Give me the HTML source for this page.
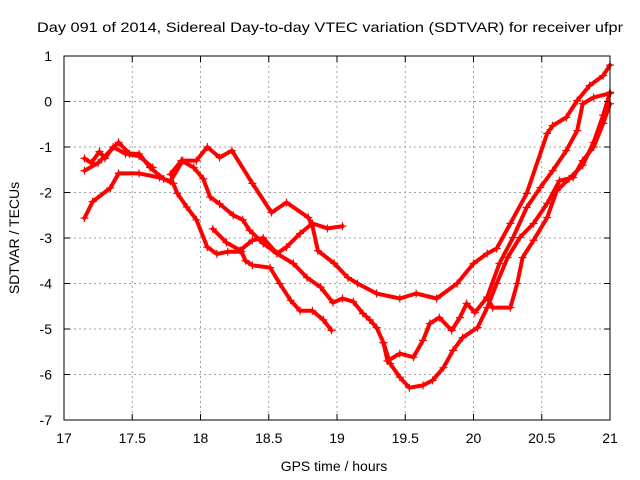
<!DOCTYPE html>
<html><head><meta charset="utf-8"><style>
html,body{margin:0;padding:0;background:#fff}
svg{display:block;font-family:"Liberation Sans",sans-serif}
</style></head><body>
<svg id="chart" width="640" height="480" viewBox="0 0 640 480">
<rect width="640" height="480" fill="#fff"/>
<text x="330" y="32" font-size="14" text-anchor="middle" textLength="586" lengthAdjust="spacingAndGlyphs">Day 091 of 2014, Sidereal Day-to-day VTEC variation (SDTVAR) for receiver ufpr</text>
<g id="grid"></g>
<g id="series"></g>
<rect x="64" y="56" width="546" height="364" fill="none" stroke="#000" stroke-width="1"/>
<g id="axes"></g>
<text x="334" y="471" font-size="14" text-anchor="middle">GPS time / hours</text>
<text transform="translate(19,238) rotate(-90)" font-size="14" text-anchor="middle">SDTVAR / TECUs</text>
</svg>
<script>
const xTicks=[17,17.5,18,18.5,19,19.5,20,20.5,21];
const xTickLabels=["17","17.5","18","18.5","19","19.5","20","20.5","21"];
const yTicks=[1,0,-1,-2,-3,-4,-5,-6,-7];
const yTickLabels=["1","0","-1","-2","-3","-4","-5","-6","-7"];
const series0=[[17.15,-1.25],[17.2,-1.35],[17.26,-1.1],[17.3,-1.25],[17.36,-1.0],[17.45,-1.15],[17.55,-1.2],[17.65,-1.45]];
const series1=[[17.15,-2.56],[17.21,-2.2],[17.34,-1.9],[17.4,-1.58],[17.55,-1.58],[17.7,-1.67],[17.78,-1.75],[17.87,-1.3],[17.97,-1.3],[18.05,-1.0],[18.14,-1.23],[18.23,-1.08],[18.38,-1.8],[18.52,-2.44],[18.63,-2.22],[18.79,-2.55],[18.82,-2.73],[18.86,-3.28],[18.98,-3.56],[19.08,-3.87],[19.15,-4.0],[19.29,-4.22],[19.46,-4.33],[19.58,-4.22],[19.73,-4.33],[19.88,-4.0],[20.0,-3.56],[20.1,-3.34],[20.17,-3.23],[20.27,-2.68],[20.39,-2.02],[20.54,-0.7],[20.58,-0.53],[20.68,-0.35],[20.76,0.02],[20.85,0.35],[20.95,0.57],[21.0,0.8]];
const series2=[[18.09,-2.8],[18.19,-3.1],[18.29,-3.27],[18.38,-3.05],[18.46,-3.0],[18.56,-3.34],[18.63,-3.2],[18.73,-2.9],[18.82,-2.68],[18.93,-2.79],[19.04,-2.74]];
const series3=[[17.15,-1.52],[17.25,-1.35],[17.4,-0.9],[17.48,-1.15],[17.55,-1.15],[17.63,-1.45],[17.73,-1.7],[17.8,-1.8],[17.83,-2.02],[17.9,-2.32],[17.97,-2.6],[18.05,-3.2],[18.12,-3.35],[18.2,-3.3],[18.3,-3.3],[18.33,-3.5],[18.38,-3.6],[18.51,-3.65],[18.58,-4.0],[18.66,-4.37],[18.73,-4.6],[18.82,-4.6],[18.9,-4.8],[18.96,-5.03]];
const series4=[[17.78,-1.6],[17.86,-1.3],[17.95,-1.45],[18.02,-1.7],[18.07,-2.1],[18.14,-2.25],[18.24,-2.5],[18.31,-2.6],[18.36,-2.83],[18.46,-3.12],[18.56,-3.34],[18.68,-3.56],[18.78,-3.87],[18.88,-4.08],[18.97,-4.42],[19.04,-4.33],[19.12,-4.4],[19.19,-4.66],[19.24,-4.8],[19.29,-4.97],[19.34,-5.3],[19.39,-5.76],[19.46,-6.06],[19.53,-6.29],[19.63,-6.24],[19.7,-6.13],[19.78,-5.85],[19.85,-5.47],[19.92,-5.19],[20.03,-4.97],[20.1,-4.53],[20.17,-4.0],[20.25,-3.43],[20.34,-2.99],[20.44,-2.68],[20.54,-2.24],[20.63,-1.74],[20.73,-1.67],[20.8,-1.3],[20.88,-1.0],[20.95,-0.48],[21.0,-0.05]];
const series5=[[19.34,-5.3],[19.37,-5.7],[19.46,-5.54],[19.56,-5.62],[19.63,-5.25],[19.68,-4.88],[19.75,-4.75],[19.84,-5.03],[19.9,-4.75],[19.95,-4.44],[20.01,-4.64],[20.1,-4.3],[20.19,-3.56],[20.29,-2.99],[20.39,-2.33],[20.49,-1.89],[20.58,-1.52],[20.68,-1.08],[20.76,-0.64],[20.8,-0.05],[20.88,0.09],[21.0,0.18]];
const series6=[[20.1,-4.3],[20.14,-4.53],[20.27,-4.53],[20.32,-4.0],[20.36,-3.43],[20.44,-3.05],[20.54,-2.55],[20.61,-1.96],[20.7,-1.7],[20.8,-1.4],[20.88,-0.9],[20.95,-0.3],[21.0,0.2]];
const allSeries=[series0,series1,series2,series3,series4,series5,series6];

const X0=64,X1=610,Y0=420,Y1=56,XMIN=17,XMAX=21,YMIN=-7,YMAX=1;
function xs(v){return X0+(v-XMIN)/(XMAX-XMIN)*(X1-X0);}
function ys(v){return Y0-(v-YMIN)/(YMAX-YMIN)*(Y0-Y1);}
const NS="http://www.w3.org/2000/svg";
function mk(tag,attrs,parent){const e=document.createElementNS(NS,tag);for(const k in attrs)e.setAttribute(k,attrs[k]);parent.appendChild(e);return e;}
const grid=document.getElementById('grid'),axes=document.getElementById('axes'),sg=document.getElementById('series');
xTicks.forEach((t,i)=>{
  const x=xs(t);
  if(i>0&&i<xTicks.length-1){
    const g=mk('line',{x1:x,x2:x,y1:Y1,y2:Y0,stroke:'#a0a0a0','stroke-dasharray':'2,3'},grid);
    
    
  }
  const tk=mk('path',{d:`M${x},${Y0}v-6M${x},${Y1}v6`,stroke:'#000'},axes);
  
  
  const lb=mk('text',{x:x,y:443,'font-size':14,'text-anchor':'middle'},axes);
  lb.textContent=xTickLabels[i];
  
  
});
yTicks.forEach((t,i)=>{
  const y=ys(t);
  if(i>0&&i<yTicks.length-1){
    const g=mk('line',{x1:X0,x2:X1,y1:y,y2:y,stroke:'#a0a0a0','stroke-dasharray':'2,3'},grid);
    
    
  }
  const tk=mk('path',{d:`M${X0},${y}h6M${X1},${y}h-6`,stroke:'#000'},axes);
  
  
  const lb=mk('text',{x:52,y:y+5,'font-size':14,'text-anchor':'end'},axes);
  lb.textContent=yTickLabels[i];
  
  
});
allSeries.forEach((s,si)=>{
  const pts=s.map(p=>xs(p[0]).toFixed(1)+','+ys(p[1]).toFixed(1)).join(' ');
  const pl=mk('polyline',{points:pts,fill:'none',stroke:'#ff0000','stroke-width':4,'stroke-linejoin':'round','stroke-linecap':'round'},sg);
  
  
  s.forEach(p=>{
    const x=xs(p[0]),y=ys(p[1]);
    const m=mk('path',{d:`M${x-4},${y}h8M${x},${y-4}v8`,stroke:'#ff0000','stroke-width':1.2},sg);
    
    
  });
});
</script>
</body></html>
